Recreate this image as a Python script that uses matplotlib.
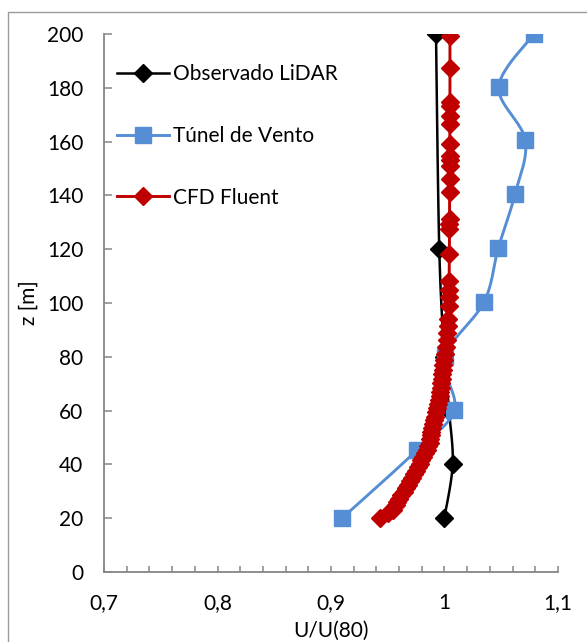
import numpy as np
import matplotlib
matplotlib.use("Agg")
import matplotlib.pyplot as plt
from matplotlib.patches import Rectangle
from matplotlib.ticker import MultipleLocator, FuncFormatter

plt.rcParams['font.family'] = ['Lato', 'DejaVu Sans']

# Vertical wind profiles, normalised by the speed at 80 m
lidar_z = [20, 40, 60, 80, 120, 200]
lidar_u = [0.9998, 1.0072, 1.0040, 1.0000, 0.9954, 0.9925]

tunel_z = [20, 45.4, 60.3, 80, 100.3, 120.4, 140.4, 160.5, 180.4, 200]
tunel_u = [0.9097, 0.9760, 1.0086, 1.0004, 1.0348, 1.0474, 1.0621, 1.0712, 1.0478, 1.0789]

cfd_z = [20.0, 21.9, 23.1, 24.8, 26.0, 27.3, 28.6, 29.9, 31.2, 32.5, 33.8, 35.1,
         36.4, 37.7, 39.0, 40.3, 41.6, 42.9, 44.2, 45.5, 46.8, 48.1, 49.4, 50.8,
         52.2, 53.6, 55.0, 56.4, 57.8, 59.3, 60.8, 62.3, 63.8, 65.3, 66.9, 68.5,
         70.1, 71.8, 73.5, 75.2, 77.0, 78.9, 81.0, 83.6, 86.2, 88.9, 91.5, 94.0,
         98.8, 102.2, 105.0, 108.0, 118.1, 127.4, 129.2, 131.1, 141.1, 146.0,
         151.0, 153.1, 154.7, 159.0, 166.5, 169.6, 173.2, 174.7, 187.3, 199.4]
cfd_u = [0.9432, 0.9505, 0.9549, 0.9570, 0.9585, 0.9600, 0.9621, 0.9642, 0.9662,
         0.9681, 0.9699, 0.9716, 0.9733, 0.9750, 0.9767, 0.9782, 0.9797, 0.9813,
         0.9828, 0.9843, 0.9857, 0.9869, 0.9874, 0.9878, 0.9884, 0.9892, 0.9900,
         0.9908, 0.9916, 0.9925, 0.9934, 0.9942, 0.9950, 0.9956, 0.9962, 0.9968,
         0.9973, 0.9977, 0.9981, 0.9985, 0.9990, 0.9995, 1.0002, 1.0010, 1.0018,
         1.0025, 1.0030, 1.0034, 1.0036, 1.0038, 1.0040, 1.0041, 1.0043, 1.0044,
         1.0044, 1.0045, 1.0046, 1.0046, 1.0047, 1.0047, 1.0047, 1.0047, 1.0048,
         1.0048, 1.0048, 1.0048, 1.0048, 1.0048]

x_ticks = [0.7, 0.8, 0.9, 1.0, 1.1]
y_ticks = [0, 20, 40, 60, 80, 100, 120, 140, 160, 180, 200]

FS = 15
W, H = 587, 642
fig = plt.figure(figsize=(W / 100, H / 100), dpi=100)
ax = fig.add_axes([104 / W, (H - 572) / H, (558 - 104) / W, (572 - 34) / H])
ax.set_xlim(0.7, 1.1)
ax.set_ylim(0, 200)

# chart-area border
fig.patches.append(Rectangle((8.3 / W, -0.1), 1.2, (H - 12.3) / H + 0.1,
                             transform=fig.transFigure, fill=False,
                             edgecolor='#9a9a9a', linewidth=1.0))


def smooth(xs, ys, n=24):
    """Cardinal (Catmull-Rom) Bezier smoothing in display space."""
    pts = ax.transData.transform(np.column_stack([xs, ys]))
    out = [pts[0]]
    m = len(pts)
    for i in range(m - 1):
        p0 = pts[i - 1] if i > 0 else pts[i]
        p1, p2 = pts[i], pts[i + 1]
        p3 = pts[i + 2] if i + 2 < m else pts[i + 1]
        c1 = p1 + (p2 - p0) / 6
        c2 = p2 - (p3 - p1) / 6
        t = np.linspace(0, 1, n)[1:, None]
        seg = ((1 - t) ** 3) * p1 + 3 * ((1 - t) ** 2) * t * c1 + 3 * (1 - t) * t ** 2 * c2 + t ** 3 * p2
        out.extend(seg)
    out = ax.transData.inverted().transform(np.array(out))
    return out[:, 0], out[:, 1]


series = [
    ("Observado LiDAR", lidar_u, lidar_z, '#000000', 'D', 8.8, 1.8),
    ("Túnel de Vento", tunel_u, tunel_z, '#558ED5', 's', 11.0, 2.1),
    ("CFD Fluent", cfd_u, cfd_z, '#C00000', 'D', 8.8, 2.1),
]
handles = []
for k, (name, u, z, col, mk, ms, lw) in enumerate(series):
    sx, sy = smooth(u, z)
    ax.plot(sx, sy, color=col, linewidth=lw, zorder=2 + k, solid_capstyle='round')
    ax.plot(u, z, linestyle='none', marker=mk, markersize=ms, color=col,
            markeredgecolor=col, zorder=2 + k)
    h, = ax.plot([], [], color=col, linewidth=lw, marker=mk, markersize=ms,
                 markeredgecolor=col, label=name)
    handles.append(h)

for s in ('top', 'right'):
    ax.spines[s].set_visible(False)
for s in ('left', 'bottom'):
    ax.spines[s].set_color('#868686')
    ax.spines[s].set_linewidth(1.3)

ax.set_xticks(x_ticks)
ax.set_yticks(y_ticks)
ax.xaxis.set_minor_locator(MultipleLocator(0.02))
ax.xaxis.set_major_formatter(FuncFormatter(lambda v, p: ('%g' % round(v, 2)).replace('.', ',')))
ax.tick_params(axis='both', which='both', direction='in', color='#868686',
               width=1.1, labelsize=FS, labelcolor='black')
ax.tick_params(axis='x', which='both', length=4.5, pad=15)
ax.tick_params(axis='y', which='major', length=5.5, pad=15)

ax.set_xlabel('U/U(80)', fontsize=FS, labelpad=6)
ax.set_ylabel('z [m]', fontsize=FS, labelpad=6)

leg = ax.legend(handles=handles, loc='upper left', bbox_to_anchor=(0.01, 0.959),
                frameon=False, fontsize=FS, handlelength=2.5, handletextpad=0.2,
                labelspacing=2.0, borderaxespad=0)

fig.savefig('out.png', dpi=100)
